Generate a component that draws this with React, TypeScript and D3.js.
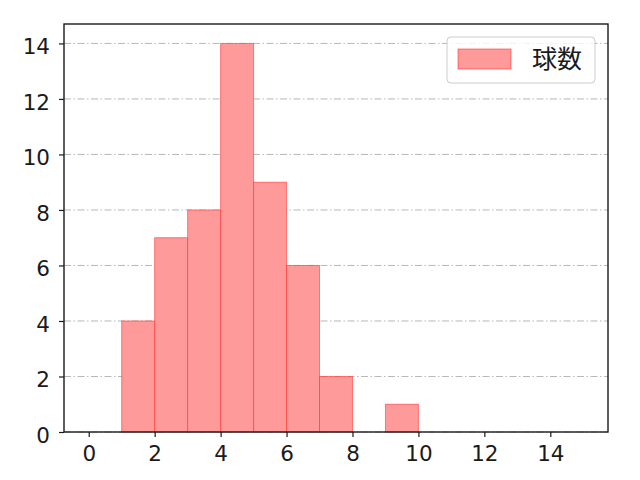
import React, { useEffect, useRef } from 'react';
import * as d3 from 'd3';

// histogram bins (left edge) and counts
const binStarts = [1, 2, 3, 4, 5, 6, 7, 8, 9];
const counts = [4, 7, 8, 14, 9, 6, 2, 0, 1];
const binWidth = 1;
const xTicks = [0, 2, 4, 6, 8, 10, 12, 14];
const yTicks = [0, 2, 4, 6, 8, 10, 12, 14];
const legendLabel = '球数';

const FONT = '"Noto Sans CJK JP", "DejaVu Sans", sans-serif';
const TICK_FONT = '"DejaVu Sans", sans-serif';

export default function App() {
  const svgRef = useRef<SVGSVGElement>(null);

  useEffect(() => {
    if (!svgRef.current) return;
    const width = 640;
    const height = 480;
    const margin = { top: 24, right: 32, bottom: 48, left: 64 };
    const w = width - margin.left - margin.right;
    const h = height - margin.top - margin.bottom;

    const svg = d3.select(svgRef.current);
    svg.selectAll('*').remove();
    svg.attr('width', width).attr('height', height);

    const g = svg.append('g').attr('transform', `translate(${margin.left},${margin.top})`);

    const x = d3.scaleLinear().domain([-0.75, 15.75]).range([0, w]);
    const y = d3.scaleLinear().domain([0, 14.7]).range([h, 0]);

    // grid (behind bars)
    g.append('g')
      .selectAll('line')
      .data(yTicks)
      .enter()
      .append('line')
      .attr('x1', 0)
      .attr('x2', w)
      .attr('y1', (d) => y(d))
      .attr('y2', (d) => y(d))
      .attr('stroke', '#b0b0b0')
      .attr('stroke-width', 0.9)
      .attr('stroke-dasharray', '7,2.5,1.5,2.5');

    const bins = binStarts.map((s, i) => ({ s, c: counts[i] })).filter((d) => d.c > 0);

    g.append('g')
      .selectAll('rect')
      .data(bins)
      .enter()
      .append('rect')
      .attr('x', (d) => x(d.s))
      .attr('y', (d) => y(d.c))
      .attr('width', (d) => x(d.s + binWidth) - x(d.s))
      .attr('height', (d) => y(0) - y(d.c))
      .attr('fill', '#ff9a9a')
      .attr('stroke', 'rgba(255,40,40,0.55)')
      .attr('stroke-width', 1);

    // axes
    const xAxis = g
      .append('g')
      .attr('transform', `translate(0,${h})`)
      .call(d3.axisBottom(x).tickValues(xTicks).tickSize(5).tickPadding(9).tickFormat(d3.format('d')));
    const yAxis = g
      .append('g')
      .call(d3.axisLeft(y).tickValues(yTicks).tickSize(5).tickPadding(9).tickFormat(d3.format('d')));
    [xAxis, yAxis].forEach((a) => {
      a.select('.domain').remove();
      a.selectAll('line').attr('stroke', '#1a1a1a').attr('stroke-width', 1.2);
      a.selectAll('text').attr('fill', '#1a1a1a').attr('font-size', 21.5).attr('font-family', TICK_FONT);
    });
    yAxis.selectAll('text').attr('dy', '0.47em');

    // frame
    g.append('rect')
      .attr('x', 0)
      .attr('y', 0)
      .attr('width', w)
      .attr('height', h)
      .attr('fill', 'none')
      .attr('stroke', '#1a1a1a')
      .attr('stroke-width', 1.4);

    // legend
    const lg = g.append('g').attr('transform', `translate(${w - 161},13)`);
    lg.append('rect')
      .attr('width', 148)
      .attr('height', 46)
      .attr('rx', 4)
      .attr('fill', 'white')
      .attr('fill-opacity', 0.8)
      .attr('stroke', '#cccccc');
    lg.append('rect')
      .attr('x', 11)
      .attr('y', 12)
      .attr('width', 53)
      .attr('height', 20)
      .attr('fill', '#ff9a9a')
      .attr('stroke', 'rgba(255,40,40,0.55)');
    lg.append('text')
      .attr('x', 85)
      .attr('y', 31)
      .attr('font-size', 25)
      .attr('font-family', FONT)
      .attr('fill', '#1a1a1a')
      .text(legendLabel);
  }, []);

  return <svg ref={svgRef} style={{ position: 'absolute', left: 0, top: 0, background: 'white' }} />;
}
